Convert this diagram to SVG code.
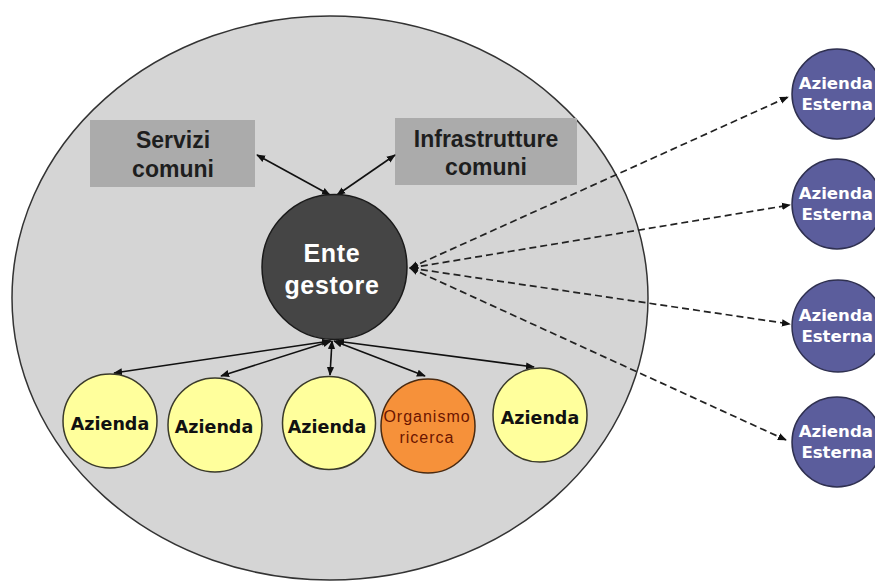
<svg xmlns="http://www.w3.org/2000/svg" width="875" height="581" viewBox="0 0 875 581">
<style>
.box{fill:#ababab;}
.btxt{font-family:"Liberation Sans",Arial,sans-serif;font-weight:bold;font-size:23px;fill:#1e1e1e;text-anchor:middle;}
.ytxt{font-family:"DejaVu Sans",Verdana,sans-serif;font-weight:bold;font-size:17.5px;fill:#111;text-anchor:middle;}
.etxt{font-family:"DejaVu Sans",Verdana,sans-serif;font-weight:bold;font-size:16.6px;fill:#fff;text-anchor:end;}
.yel{fill:#ffff9c;stroke:#3a3a2a;stroke-width:1.5;}
.ext{fill:#5b5d9c;stroke:#2f3050;stroke-width:1.5;}
.solid{stroke:#111;stroke-width:1.6;fill:none;marker-start:url(#ah);marker-end:url(#ah);}
.dash{stroke:#222;stroke-width:1.7;fill:none;stroke-dasharray:7 4;marker-start:url(#ah);marker-end:url(#ah);}
</style>
<defs>
<marker id="ah" viewBox="0 0 10 10" refX="9" refY="5" markerWidth="9" markerHeight="9" markerUnits="userSpaceOnUse" orient="auto-start-reverse">
<path d="M0,1 L10,5 L0,9 z" fill="#111"/>
</marker>
</defs>
<rect width="875" height="581" fill="#fff"/>
<g id="area">
<ellipse cx="330" cy="298" rx="318" ry="282" fill="#d5d5d5" stroke="#333" stroke-width="1.5"/>
</g>
<g id="servizi">
<rect class="box" x="90" y="120" width="165" height="67"/>
<text class="btxt" x="173" y="148">Servizi</text>
<text class="btxt" x="173" y="177">comuni</text>
</g>
<g id="infrastrutture">
<rect class="box" x="395" y="118" width="182" height="67"/>
<text class="btxt" x="486" y="147">Infrastrutture</text>
<text class="btxt" x="486" y="175">comuni</text>
</g>
<g id="connectors">
<line class="solid" x1="330" y1="195" x2="257" y2="155"/>
<line class="solid" x1="337" y1="195" x2="395" y2="155"/>
<line class="solid" x1="330" y1="341" x2="114" y2="373"/>
<line class="solid" x1="331" y1="341" x2="221" y2="376"/>
<line class="solid" x1="332" y1="341" x2="330" y2="375"/>
<line class="solid" x1="334" y1="341" x2="425" y2="376"/>
<line class="solid" x1="336" y1="341" x2="534" y2="367"/>
<line class="dash" x1="410" y1="268" x2="788" y2="97"/>
<line class="dash" x1="410" y1="268" x2="790" y2="205"/>
<line class="dash" x1="410" y1="268" x2="790" y2="324"/>
<line class="dash" x1="410" y1="268" x2="786" y2="440"/>
</g>
<g id="ente">
<circle cx="334.5" cy="267" r="72.5" fill="#454545" stroke="#1a1a1a" stroke-width="1.5"/>
<text x="332" y="262" font-family="Liberation Sans, Arial, sans-serif" font-weight="bold" font-size="25" letter-spacing="0.7" fill="#fff" text-anchor="middle">Ente</text>
<text x="332" y="294" font-family="Liberation Sans, Arial, sans-serif" font-weight="bold" font-size="25" letter-spacing="0.7" fill="#fff" text-anchor="middle">gestore</text>
</g>
<g id="azienda1">
<circle class="yel" cx="110" cy="421" r="47"/>
<text class="ytxt" x="110" y="430">Azienda</text>
</g>
<g id="azienda2">
<circle class="yel" cx="215" cy="425" r="47"/>
<text class="ytxt" x="214" y="433">Azienda</text>
</g>
<g id="azienda3">
<circle class="yel" cx="329" cy="423" r="46.5"/>
<text class="ytxt" x="327" y="433">Azienda</text>
</g>
<g id="organismo">
<circle cx="428" cy="426" r="47" fill="#f6913a" stroke="#4a2a10" stroke-width="1.5"/>
<text x="427" y="422" font-family="Liberation Sans, Arial, sans-serif" font-size="16" letter-spacing="1" fill="#6b1500" text-anchor="middle">Organismo</text>
<text x="427" y="443" font-family="Liberation Sans, Arial, sans-serif" font-size="16" letter-spacing="1" fill="#6b1500" text-anchor="middle">ricerca</text>
</g>
<g id="azienda5">
<circle class="yel" cx="540" cy="415" r="47"/>
<text class="ytxt" x="540" y="424">Azienda</text>
</g>
<g id="esterna1">
<circle class="ext" cx="837" cy="94" r="45"/>
<text class="etxt" x="873" y="89">Azienda</text>
<text class="etxt" x="873" y="110">Esterna</text>
</g>
<g id="esterna2">
<circle class="ext" cx="837" cy="204" r="45"/>
<text class="etxt" x="873" y="199">Azienda</text>
<text class="etxt" x="873" y="220">Esterna</text>
</g>
<g id="esterna3">
<circle class="ext" cx="838" cy="326" r="46"/>
<text class="etxt" x="873" y="321">Azienda</text>
<text class="etxt" x="873" y="342">Esterna</text>
</g>
<g id="esterna4">
<circle class="ext" cx="837" cy="442" r="45"/>
<text class="etxt" x="873" y="437">Azienda</text>
<text class="etxt" x="873" y="458">Esterna</text>
</g>
</svg>
